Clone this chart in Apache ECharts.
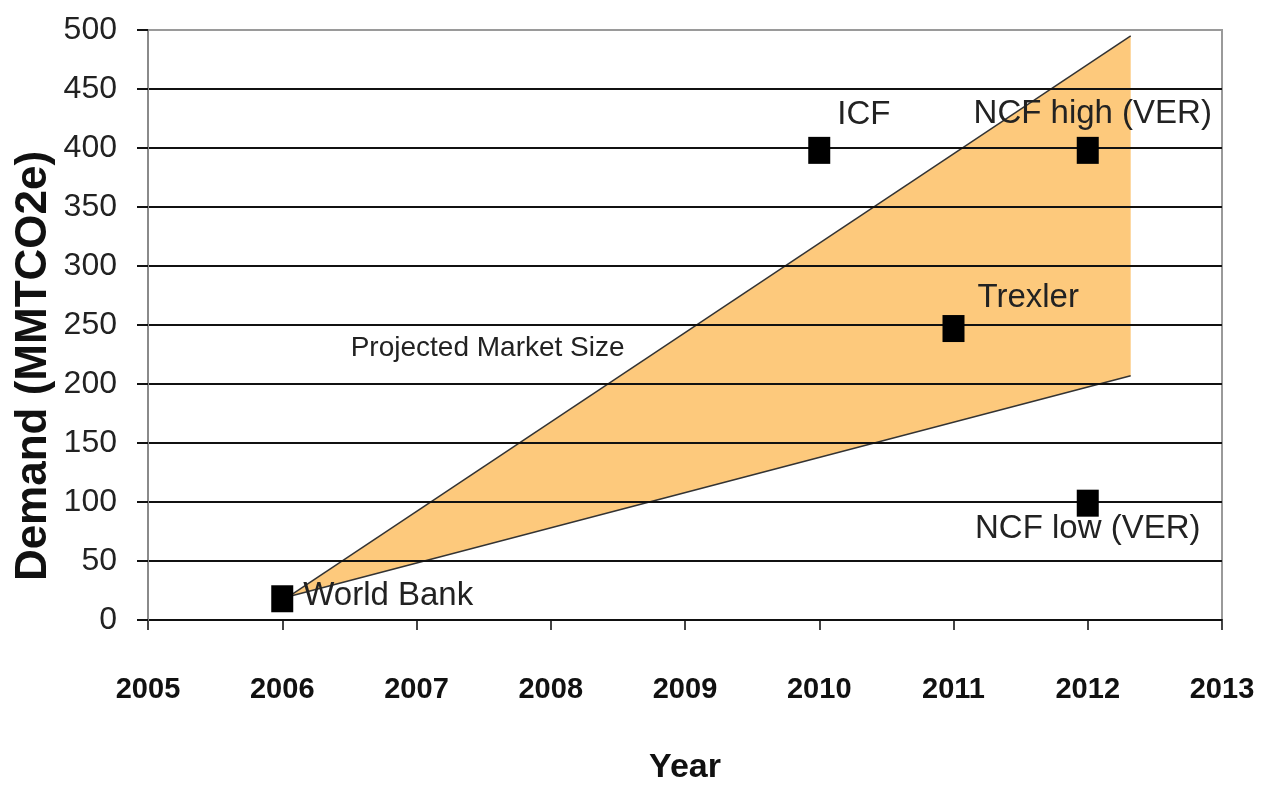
<!DOCTYPE html>
<html lang="en">
<head>
    <meta charset="UTF-8">
    <title>Demand</title>
    <script src="https://cdn.jsdelivr.net/npm/echarts@6/dist/echarts.min.js"></script>
</head>
<style>
    body{
        margin:0;
        background:#fff;
    }
    #chart{
        width:1263px;
        height:785px;
    }
</style>
<body>
<div id="chart"></div>
</body>
<script>
    var font = "'Liberation Sans', Arial, sans-serif";

    // estimates
    var estNames = ['World Bank', 'ICF', 'Trexler', 'NCF high (VER)', 'NCF low (VER)'];
    var estYears = [2006, 2010, 2011, 2012, 2012];
    var estDemand = [18, 398, 247, 398, 99];

    // projected market size band (lower edge and upper edge meet at the start)
    var bandYears = [2006.05, 2012.32, 2012.32];
    var bandValues = [20, 495, 207];
    var bandLabel = 'Projected Market Size';
    var bandLabelAt = [2008.55, 230];

    var yearTicks = [2005, 2013];
    var demandTicks = [0, 500];

    // where each label sits next to its square
    var labelPos = [
        {position: 'right', offset: [5, -3]},
        {position: 'right', offset: [2, -35]},
        {position: 'right', offset: [8, -31]},
        {position: 'top', offset: [5, -1]},
        {position: 'bottom', offset: [0, -9]}
    ];

    var points = [];
    for (var i = 0; i < estNames.length; i++) {
        points.push({
            name: estNames[i],
            value: [estYears[i], estDemand[i]],
            label: labelPos[i]
        });
    }

    var myChart = echarts.init(document.getElementById('chart'));
    myChart.setOption({
        animation: false,
        grid: {
            left: 148,
            right: 41,
            top: 30,
            bottom: 165,
            outerBoundsMode: 'none',
            show: true,
            borderColor: '#9a9a9a',
            borderWidth: 2
        },
        xAxis: {
            type: 'value',
            min: yearTicks[0],
            max: yearTicks[1],
            interval: 1,
            name: 'Year',
            nameLocation: 'middle',
            nameGap: 131,
            nameTextStyle: {
                fontFamily: font,
                fontWeight: 'bold',
                fontSize: 34,
                color: '#111'
            },
            axisLine: {lineStyle: {color: '#111', width: 2}},
            axisTick: {show: true, length: 10, lineStyle: {color: '#444', width: 2}},
            axisLabel: {
                margin: 55,
                fontFamily: font,
                fontWeight: 'bold',
                fontSize: 29,
                color: '#111',
                formatter: function (v) { return String(v); }
            },
            splitLine: {show: false}
        },
        yAxis: {
            type: 'value',
            min: demandTicks[0],
            max: demandTicks[1],
            interval: 50,
            z: 3,
            axisLine: {show: true, lineStyle: {color: '#8a8a8a', width: 2}},
            axisTick: {show: true, length: 11, lineStyle: {color: '#111', width: 2}},
            axisLabel: {
                margin: 31,
                fontFamily: font,
                fontSize: 32,
                color: '#222'
            },
            splitLine: {
                show: true,
                showMaxLine: false,
                lineStyle: {color: '#111', width: 2}
            }
        },
        graphic: [{
            type: 'text',
            x: 34,
            y: 366,
            rotation: Math.PI / 2,
            style: {
                text: 'Demand (MMTCO2e)',
                fontFamily: font,
                fontWeight: 'bold',
                fontSize: 44,
                fill: '#111',
                align: 'center',
                verticalAlign: 'middle'
            }
        }],
        series: [{
            type: 'custom',
            z: 2,
            data: [0],
            renderItem: function (params, api) {
                var pts = [];
                for (var k = 0; k < bandYears.length; k++) {
                    pts.push(api.coord([bandYears[k], bandValues[k]]));
                }
                var lab = api.coord(bandLabelAt);
                return {
                    type: 'group',
                    children: [{
                        type: 'polygon',
                        shape: {points: pts},
                        style: {fill: '#fdc97c', stroke: null}
                    }, {
                        type: 'polyline',
                        shape: {points: [pts[0], pts[1]]},
                        style: {stroke: '#333', lineWidth: 1.5, fill: null}
                    }, {
                        type: 'polyline',
                        shape: {points: [pts[0], pts[2]]},
                        style: {stroke: '#333', lineWidth: 1.5, fill: null}
                    }, {
                        type: 'text',
                        x: lab[0],
                        y: lab[1],
                        style: {
                            text: bandLabel,
                            fontFamily: font,
                            fontSize: 28,
                            fill: '#222',
                            align: 'right',
                            verticalAlign: 'middle'
                        }
                    }]
                };
            }
        }, {
            type: 'scatter',
            z: 5,
            symbol: 'rect',
            symbolSize: [22, 27],
            itemStyle: {color: '#000', opacity: 1},
            data: points,
            label: {
                show: true,
                formatter: '{b}',
                distance: 5,
                fontFamily: font,
                fontSize: 33,
                color: '#222'
            }
        }]
    });
</script>

</html>
